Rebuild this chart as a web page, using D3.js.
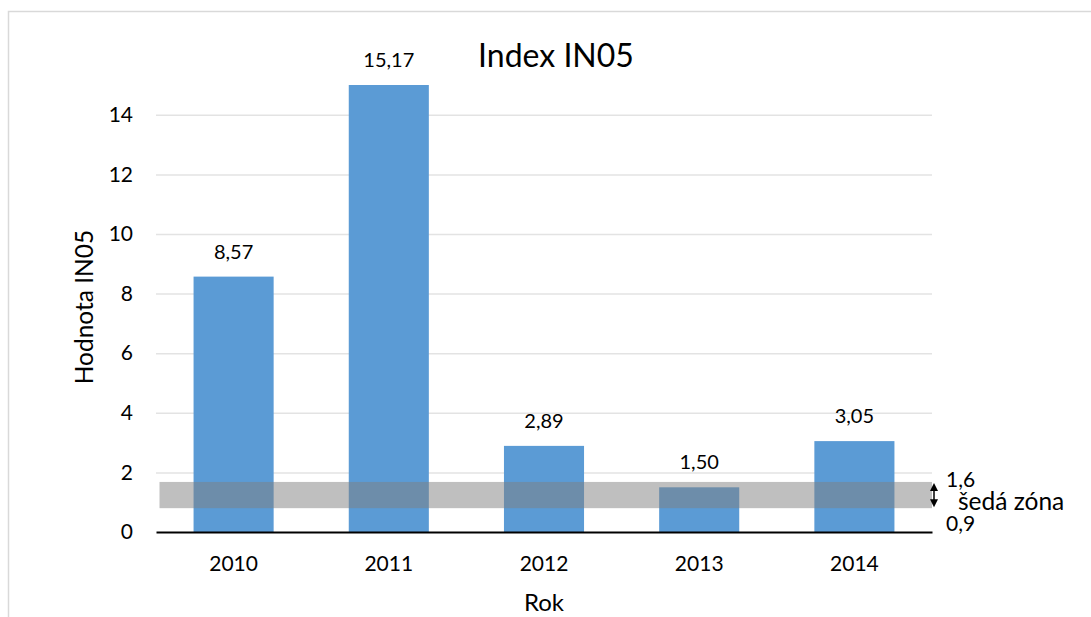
<!DOCTYPE html>
<html>
<head>
<meta charset="utf-8">
<script src="https://cdn.jsdelivr.net/npm/d3@7/dist/d3.min.js"></script>
<style>
  html, body { margin: 0; padding: 0; background: #fff; }
  svg { display: block; }
  text { font-family: Lato, "Open Sans", sans-serif; fill: #000; }
</style>
</head>
<body>
<svg id="chart" width="1091" height="617"></svg>
<script>
// ---- data ----
const years = ["2010", "2011", "2012", "2013", "2014"];
const values = [8.57, 15.17, 2.89, 1.50, 3.05];
const yTicks = [0, 2, 4, 6, 8, 10, 12, 14];
const yMax = 15;
const zoneBand = [0.80, 1.68];
const zoneLabels = ["1,6", "šedá zóna", "0,9"];
const titleText = "Index IN05";
const yTitle = "Hodnota IN05";
const xTitle = "Rok";

// ---- layout ----
const svg = d3.select("#chart");
const margin = { left: 156, right: 1091 - 932, top: 85, bottom: 617 - 532 };
const W = 1091, H = 617;
const plotW = W - margin.left - margin.right;
const plotH = H - margin.top - margin.bottom;

const csLocale = d3.formatLocale({ decimal: ",", thousands: " ", grouping: [3], currency: ["", " Kč"] });
const fmt2 = csLocale.format(".2f");

// chart area border
svg.append("rect")
  .attr("x", 8.5).attr("y", 11.5)
  .attr("width", 1200).attr("height", 800)
  .attr("fill", "none").attr("stroke", "#d9d9d9").attr("stroke-width", 1.5);

const x = d3.scaleBand().domain(years).range([0, plotW]).paddingInner(0.484).paddingOuter(0.242);
const y = d3.scaleLinear().domain([0, yMax]).range([plotH, 0]);

const g = svg.append("g").attr("transform", `translate(${margin.left},${margin.top})`);

svg.append("defs").append("clipPath").attr("id", "plotClip")
  .append("rect").attr("x", 0).attr("y", 0).attr("width", plotW).attr("height", plotH);

// gridlines
const yAxis = d3.axisLeft(y).tickValues(yTicks).tickSize(-plotW).tickPadding(23).tickFormat(d3.format("d"));
const ya = g.append("g").call(yAxis);
ya.select(".domain").remove();
ya.selectAll(".tick line").attr("stroke", "#e3e3e3").attr("stroke-width", 1.5);
ya.selectAll(".tick").filter(d => d === 0).select("line").remove();
ya.selectAll(".tick text").style("font-family", "Lato, sans-serif").style("font-size", "21px").attr("fill", "#000");

// bars
g.append("g").attr("clip-path", "url(#plotClip)")
  .selectAll("rect.bar").data(values).join("rect")
  .attr("class", "bar")
  .attr("x", (d, i) => x(years[i]))
  .attr("width", x.bandwidth())
  .attr("y", d => y(d))
  .attr("height", d => plotH - y(d))
  .attr("fill", "#5b9bd5");

// data labels
g.selectAll("text.lbl").data(values).join("text")
  .attr("class", "lbl")
  .attr("x", (d, i) => x(years[i]) + x.bandwidth() / 2)
  .attr("y", d => y(Math.min(d, yMax)) - 18)
  .attr("text-anchor", "middle")
  .style("font-size", "20px")
  .text(d => fmt2(d));

// gray zone
g.append("rect")
  .attr("x", 3.5)
  .attr("width", plotW - 3.5)
  .attr("y", y(zoneBand[1]))
  .attr("height", y(zoneBand[0]) - y(zoneBand[1]))
  .attr("fill", "#7f7f7f")
  .attr("fill-opacity", 0.5);

// x axis
const xAxis = d3.axisBottom(x).tickSize(0).tickPadding(24);
const xa = g.append("g").attr("transform", `translate(0,${plotH})`).call(xAxis);
xa.select(".domain").attr("stroke", "#000").attr("stroke-width", 2);
xa.selectAll(".tick text").style("font-family", "Lato, sans-serif").style("font-size", "21px").attr("fill", "#000");

// double arrow
const ax = plotW + 2;
const yt = y(zoneBand[1]) + 1, yb = y(zoneBand[0]) - 1;
g.append("line").attr("x1", ax).attr("x2", ax).attr("y1", yt + 6).attr("y2", yb - 6)
  .attr("stroke", "#000").attr("stroke-width", 1.5);
g.append("path").attr("d", `M${ax},${yt} L${ax - 4},${yt + 8} L${ax + 4},${yt + 8} Z`).attr("fill", "#000");
g.append("path").attr("d", `M${ax},${yb} L${ax - 4},${yb - 8} L${ax + 4},${yb - 8} Z`).attr("fill", "#000");

// zone labels
g.append("text").attr("x", plotW + 14).attr("y", y(zoneBand[1]) + 5).style("font-size", "21px").text(zoneLabels[0]);
g.append("text").attr("x", plotW + 26).attr("y", y(zoneBand[1]) + 28).style("font-size", "24.5px").text(zoneLabels[1]);
g.append("text").attr("x", plotW + 14).attr("y", plotH - 1).style("font-size", "21px").text(zoneLabels[2]);

// title
svg.append("text").attr("x", 556).attr("y", 67).attr("text-anchor", "middle")
  .style("font-size", "32px").text(titleText);

// axis titles
svg.append("text").attr("transform", `translate(93,307) rotate(-90)`).attr("text-anchor", "middle")
  .style("font-size", "24.5px").text(yTitle);
svg.append("text").attr("x", margin.left + plotW / 2).attr("y", 611).attr("text-anchor", "middle")
  .style("font-size", "24px").text(xTitle);
</script>
</body>
</html>
